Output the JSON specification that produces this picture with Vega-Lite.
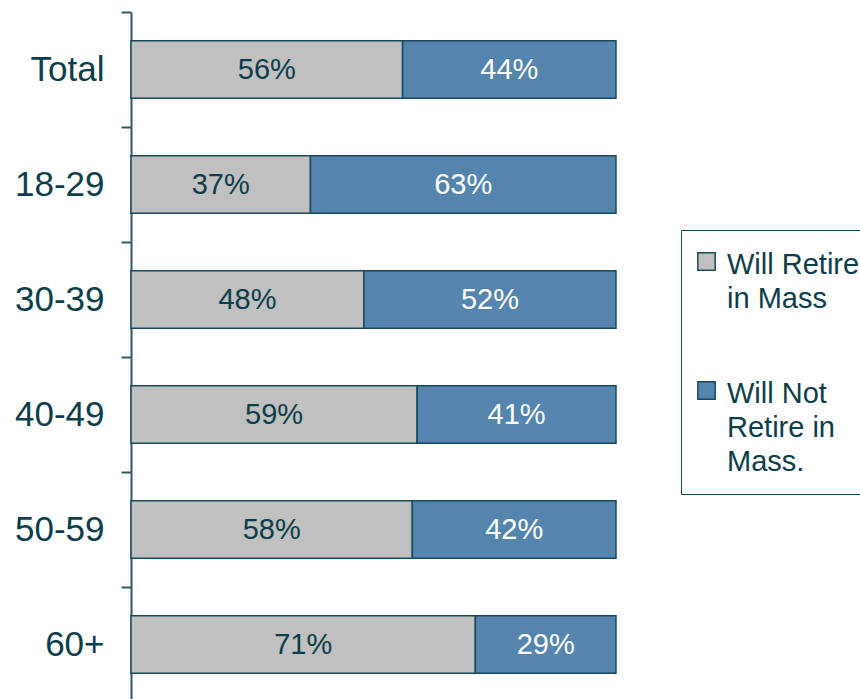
{
  "$schema": "https://vega.github.io/schema/vega-lite/v6.json",
  "width": 485,
  "height": 690,
  "autosize": {"type": "none"},
  "padding": {"left": 131, "top": 12, "right": 244, "bottom": 0},
  "background": "white",
  "config": {"view": {"stroke": null}, "font": "Liberation Sans"},
  "data": {
    "values": [
      {"group": "Total", "answer": "Will Retire|in Mass", "rank": 1, "share": 0.56},
      {"group": "Total", "answer": "Will Not|Retire in|Mass.", "rank": 2, "share": 0.44},
      {"group": "18-29", "answer": "Will Retire|in Mass", "rank": 1, "share": 0.37},
      {"group": "18-29", "answer": "Will Not|Retire in|Mass.", "rank": 2, "share": 0.63},
      {"group": "30-39", "answer": "Will Retire|in Mass", "rank": 1, "share": 0.48},
      {"group": "30-39", "answer": "Will Not|Retire in|Mass.", "rank": 2, "share": 0.52},
      {"group": "40-49", "answer": "Will Retire|in Mass", "rank": 1, "share": 0.59},
      {"group": "40-49", "answer": "Will Not|Retire in|Mass.", "rank": 2, "share": 0.41},
      {"group": "50-59", "answer": "Will Retire|in Mass", "rank": 1, "share": 0.58},
      {"group": "50-59", "answer": "Will Not|Retire in|Mass.", "rank": 2, "share": 0.42},
      {"group": "60+", "answer": "Will Retire|in Mass", "rank": 1, "share": 0.71},
      {"group": "60+", "answer": "Will Not|Retire in|Mass.", "rank": 2, "share": 0.29}
    ]
  },
  "encoding": {
    "y": {
      "field": "group",
      "type": "nominal",
      "sort": ["Total", "18-29", "30-39", "40-49", "50-59", "60+"],
      "scale": {"paddingInner": 0, "paddingOuter": 0},
      "axis": {
        "title": null,
        "domainColor": "#2F5866",
        "domainWidth": 2,
        "tickColor": "#2F5866",
        "tickWidth": 2,
        "tickSize": 10,
        "tickBand": "extent",
        "labelFontSize": 35,
        "labelColor": "#0B3D4A",
        "labelPadding": 17,
        "grid": false
      }
    }
  },
  "layer": [
    {
      "mark": {"type": "bar", "stroke": "#17495A", "strokeWidth": 1.5, "height": {"band": 0.5}},
      "encoding": {
        "x": {"field": "share", "type": "quantitative", "stack": "zero", "scale": {"domain": [0, 1]}, "axis": null},
        "color": {
          "field": "answer",
          "type": "nominal",
          "scale": {"domain": ["Will Retire|in Mass", "Will Not|Retire in|Mass."], "range": ["#C0C0C0", "#5485AE"]},
          "legend": {
            "title": null,
            "orient": "none",
            "legendX": 550,
            "legendY": 218,
            "symbolType": "square",
            "symbolSize": 300,
            "symbolOffset": -6,
            "symbolStrokeColor": "#17495A",
            "symbolStrokeWidth": 1.5,
            "labelFontSize": 29,
            "labelColor": "#0B3D4A",
            "labelLimit": 0,
            "labelOffset": 6,
            "labelExpr": "split(datum.label, '|')",
            "labelBaseline": "top",
            "strokeColor": "#17495A",
            "fillColor": "white",
            "padding": 17,
            "rowPadding": 62,
            "encode": {"labels": {"update": {"lineHeight": {"value": 34}, "dy": {"value": -11}}}}
          }
        },
        "order": {"field": "rank", "type": "quantitative"}
      }
    },
    {
      "mark": {"type": "text", "fontSize": 29},
      "encoding": {
        "x": {"field": "share", "type": "quantitative", "stack": "zero", "bandPosition": 0.5},
        "detail": {"field": "answer"},
        "order": {"field": "rank", "type": "quantitative"},
        "text": {"field": "share", "type": "quantitative", "format": ".0%"},
        "color": {"condition": {"test": "datum.rank == 2", "value": "white"}, "value": "#0B3D4A"}
      }
    }
  ]
}
